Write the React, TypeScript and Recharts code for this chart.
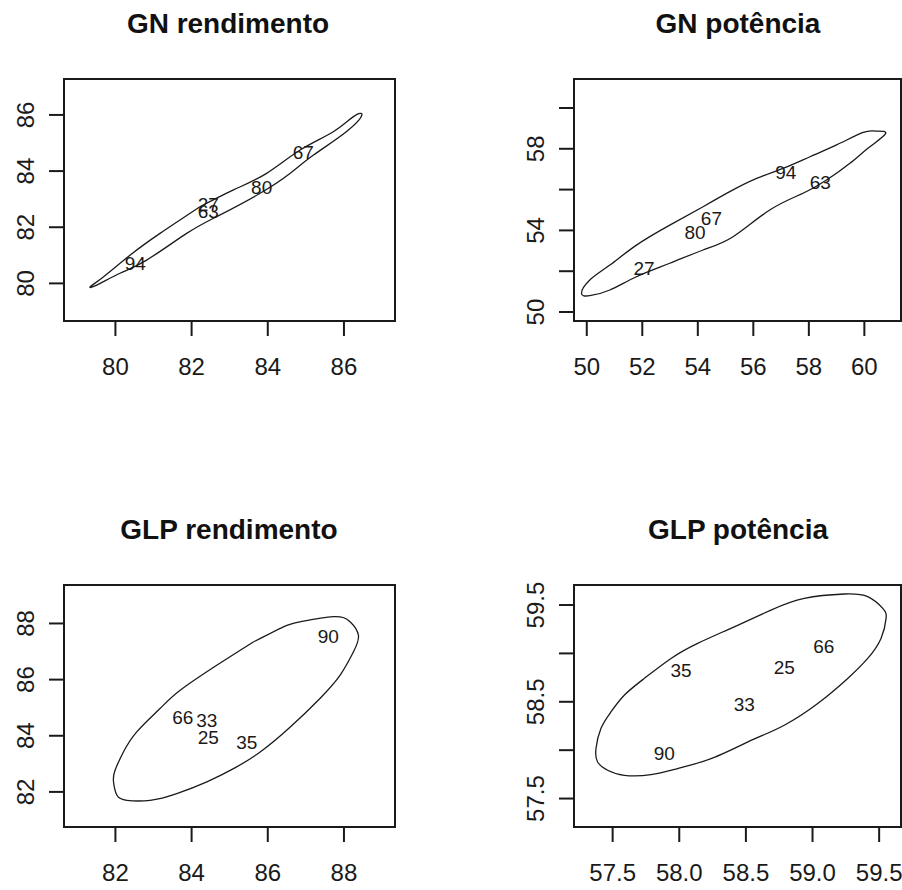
import React from "react";
import { ScatterChart, Scatter, XAxis, YAxis, ReferenceArea } from "recharts";

// ---------- data ----------
const gnRendEllipse = [
  { x: 82.22, y: 82.73 }, { x: 83.1, y: 83.33 }, { x: 83.97, y: 83.92 }, { x: 84.85, y: 84.75 },
  { x: 85.72, y: 85.4 }, { x: 86.25, y: 85.94 }, { x: 86.47, y: 86.0 }, { x: 86.07, y: 85.41 },
  { x: 85.2, y: 84.57 }, { x: 84.59, y: 83.92 }, { x: 83.8, y: 83.21 }, { x: 82.66, y: 82.38 },
  { x: 81.87, y: 81.78 }, { x: 80.82, y: 80.83 }, { x: 80.12, y: 80.36 }, { x: 79.51, y: 79.94 },
  { x: 79.34, y: 79.88 }, { x: 79.69, y: 80.24 }, { x: 80.39, y: 81.01 }, { x: 81.17, y: 81.78 },
  { x: 82.22, y: 82.73 },
];
const gnRendLabels = [
  { x: 80.52, y: 80.71, label: "94" },
  { x: 82.44, y: 82.83, label: "27" },
  { x: 82.44, y: 82.59, label: "63" },
  { x: 83.84, y: 83.42, label: "80" },
  { x: 84.93, y: 84.69, label: "67" },
];
const gnRendXTicks = [80, 82, 84, 86];
const gnRendYTicks = [80, 82, 84, 86];
const gnRendYLabels = [80, 82, 84, 86];

const gnPotEllipse = [
  { x: 54.19, y: 55.16 }, { x: 55.15, y: 55.9 }, { x: 56.12, y: 56.55 },
  { x: 57.07, y: 57.04 }, { x: 58.04, y: 57.61 }, { x: 59.0, y: 58.19 }, { x: 59.96, y: 58.8 },
  { x: 60.4, y: 58.87 }, { x: 60.77, y: 58.76 }, { x: 60.2, y: 58.1 }, { x: 59.48, y: 57.29 },
  { x: 58.64, y: 56.47 }, { x: 57.79, y: 55.82 }, { x: 56.59, y: 55.0 }, { x: 55.27, y: 53.69 },
  { x: 54.19, y: 53.04 }, { x: 52.99, y: 52.39 }, { x: 51.79, y: 51.73 }, { x: 50.83, y: 51.08 },
  { x: 50.11, y: 50.8 }, { x: 49.81, y: 50.92 }, { x: 50.11, y: 51.57 }, { x: 50.83, y: 52.3 },
  { x: 51.79, y: 53.28 }, { x: 52.99, y: 54.26 }, { x: 54.19, y: 55.16 },
];
const gnPotLabels = [
  { x: 52.06, y: 52.14, label: "27" },
  { x: 53.9, y: 53.91, label: "80" },
  { x: 54.49, y: 54.59, label: "67" },
  { x: 57.17, y: 56.83, label: "94" },
  { x: 58.41, y: 56.34, label: "63" },
];
const gnPotXTicks = [50, 52, 54, 56, 58, 60];
const gnPotYTicks = [50, 52, 54, 56, 58, 60];
const gnPotYLabels = [50, 54, 58];

const glpRendEllipse = [
  { x: 85.62, y: 87.34 }, { x: 84.66, y: 86.51 }, { x: 83.7, y: 85.62 },
  { x: 83.17, y: 84.97 }, { x: 82.56, y: 84.14 }, { x: 82.21, y: 83.42 }, { x: 81.99, y: 82.77 },
  { x: 81.95, y: 82.36 }, { x: 82.04, y: 81.88 }, { x: 82.3, y: 81.7 }, { x: 82.91, y: 81.7 },
  { x: 83.61, y: 81.94 }, { x: 84.4, y: 82.36 }, { x: 85.1, y: 82.83 }, { x: 85.8, y: 83.42 },
  { x: 86.59, y: 84.31 }, { x: 87.37, y: 85.33 }, { x: 87.9, y: 86.16 }, { x: 88.25, y: 86.99 },
  { x: 88.38, y: 87.58 }, { x: 88.16, y: 88.06 }, { x: 87.72, y: 88.24 }, { x: 86.85, y: 88.06 },
  { x: 86.41, y: 87.88 }, { x: 85.62, y: 87.34 },
];
const glpRendLabels = [
  { x: 83.77, y: 84.67, label: "66" },
  { x: 84.4, y: 84.55, label: "33" },
  { x: 84.44, y: 83.96, label: "25" },
  { x: 85.45, y: 83.78, label: "35" },
  { x: 87.59, y: 87.56, label: "90" },
];
const glpRendXTicks = [82, 84, 86, 88];
const glpRendYTicks = [82, 84, 86, 88];
const glpRendYLabels = [82, 84, 86, 88];

const glpPotEllipse = [
  { x: 58.538, y: 58.102 }, { x: 58.238, y: 57.913 }, { x: 57.988, y: 57.81 },
  { x: 57.788, y: 57.747 }, { x: 57.587, y: 57.74 }, { x: 57.462, y: 57.792 }, { x: 57.387, y: 57.878 },
  { x: 57.375, y: 58.017 }, { x: 57.412, y: 58.224 }, { x: 57.487, y: 58.395 }, { x: 57.587, y: 58.568 },
  { x: 57.737, y: 58.741 }, { x: 57.938, y: 58.948 }, { x: 58.138, y: 59.104 }, { x: 58.413, y: 59.275 },
  { x: 58.688, y: 59.448 }, { x: 58.938, y: 59.569 }, { x: 59.239, y: 59.614 }, { x: 59.414, y: 59.586 },
  { x: 59.527, y: 59.466 }, { x: 59.552, y: 59.362 }, { x: 59.514, y: 59.155 }, { x: 59.414, y: 58.948 },
  { x: 59.264, y: 58.741 }, { x: 59.039, y: 58.482 }, { x: 58.788, y: 58.258 }, { x: 58.538, y: 58.102 },
];
const glpPotLabels = [
  { x: 57.887, y: 57.965, label: "90" },
  { x: 58.013, y: 58.827, label: "35" },
  { x: 58.488, y: 58.472, label: "33" },
  { x: 58.788, y: 58.861, label: "25" },
  { x: 59.084, y: 59.076, label: "66" },
];
const glpPotXTicks = [57.5, 58.0, 58.5, 59.0, 59.5];
const glpPotYTicks = [57.5, 58.0, 58.5, 59.0, 59.5];
const glpPotYLabels = [57.5, 58.5, 59.5];

const titles = ["GN rendimento", "GN potência", "GLP rendimento", "GLP potência"];

// ---------- styling ----------
const TICK_FONT = "'Liberation Sans', Arial, sans-serif";
const TITLE_FONT = "'Liberation Sans', Arial, sans-serif";
const INK = "#1a1a1a";

type Pt = { x: number; y: number };
type Lbl = { x: number; y: number; label: string };

const fmtInt = (v: number) => String(v);
const fmtOne = (v: number) => v.toFixed(1);

function YTick(props: any) {
  const { x, y, payload, visible, fmt } = props;
  const v = payload.value;
  if (!visible.some((w: number) => Math.abs(w - v) < 1e-9)) return <g />;
  return (
    <text
      x={x}
      y={y}
      transform={`rotate(-90, ${x}, ${y})`}
      textAnchor="middle"
      fontSize={24}
      fontFamily={TICK_FONT}
      fill={INK}
    >
      {fmt(v)}
    </text>
  );
}

function LabelShape(props: any) {
  const { cx, cy, payload } = props;
  return (
    <text
      x={cx}
      y={cy}
      dy="0.36em"
      textAnchor="middle"
      fontSize={19}
      fontFamily={TICK_FONT}
      fill={INK}
    >
      {payload.label}
    </text>
  );
}

type PanelProps = {
  left: number;
  top: number;
  ellipse: Pt[];
  labels: Lbl[];
  xDomain: [number, number];
  yDomain: [number, number];
  xTicks: number[];
  yTicks: number[];
  yLabels: number[];
  fmt: (v: number) => string;
  plotLeft: number;
  plotRight: number;
  plotTop: number;
  plotBottom: number;
};

function Panel(p: PanelProps) {
  const W = 451;
  const H = 445;
  const XH = 60;
  return (
    <div style={{ position: "absolute", left: p.left, top: p.top, width: W, height: H }}>
      <ScatterChart
        width={W}
        height={H}
        margin={{ top: p.plotTop, right: W - p.plotRight, bottom: H - p.plotBottom - XH, left: 0 }}
      >
        <XAxis
          type="number"
          dataKey="x"
          domain={p.xDomain}
          ticks={p.xTicks}
          allowDataOverflow
          height={XH}
          axisLine={false}
          tickLine={{ stroke: INK, strokeWidth: 2 }}
          tickSize={15}
          tickMargin={22}
          tickFormatter={p.fmt}
          tick={{ fontSize: 24, fill: INK, fontFamily: TICK_FONT }}
          interval={0}
        />
        <YAxis
          type="number"
          dataKey="y"
          domain={p.yDomain}
          ticks={p.yTicks}
          allowDataOverflow
          width={p.plotLeft}
          axisLine={false}
          tickLine={{ stroke: INK, strokeWidth: 2 }}
          tickSize={15}
          tickMargin={15}
          interval={0}
          tick={(tp: any) => <YTick {...tp} visible={p.yLabels} fmt={p.fmt} />}
        />
        <ReferenceArea
          x1={p.xDomain[0]}
          x2={p.xDomain[1]}
          y1={p.yDomain[0]}
          y2={p.yDomain[1]}
          fill="none"
          stroke={INK}
          strokeWidth={2}
          ifOverflow="visible"
        />
        <Scatter
          data={p.ellipse}
          line={{ stroke: INK, strokeWidth: 1.3 }}
          lineType="joint"
          lineJointType="natural"
          shape={() => <g />}
          isAnimationActive={false}
        />
        <Scatter data={p.labels} shape={LabelShape} isAnimationActive={false} />
      </ScatterChart>
    </div>
  );
}

export default function App() {
  return (
    <div
      style={{
        position: "absolute",
        left: 0,
        top: 0,
        width: 902,
        height: 890,
        overflow: "hidden",
        background: "#fff",
      }}
    >
      <Panel
        left={0}
        top={0}
        ellipse={gnRendEllipse}
        labels={gnRendLabels}
        xDomain={[78.65, 87.34]}
        yDomain={[78.66, 87.28]}
        xTicks={gnRendXTicks}
        yTicks={gnRendYTicks}
        yLabels={gnRendYLabels}
        fmt={fmtInt}
        plotLeft={64}
        plotRight={395}
        plotTop={79}
        plotBottom={321}
      />
      <Panel
        left={451}
        top={0}
        ellipse={gnPotEllipse}
        labels={gnPotLabels}
        xDomain={[49.54, 61.32]}
        yDomain={[49.56, 61.42]}
        xTicks={gnPotXTicks}
        yTicks={gnPotYTicks}
        yLabels={gnPotYLabels}
        fmt={fmtInt}
        plotLeft={123}
        plotRight={450}
        plotTop={79}
        plotBottom={321}
      />
      <Panel
        left={0}
        top={445}
        ellipse={glpRendEllipse}
        labels={glpRendLabels}
        xDomain={[80.65, 89.34]}
        yDomain={[80.75, 89.37]}
        xTicks={glpRendXTicks}
        yTicks={glpRendYTicks}
        yLabels={glpRendYLabels}
        fmt={fmtInt}
        plotLeft={64}
        plotRight={395}
        plotTop={140}
        plotBottom={382}
      />
      <Panel
        left={451}
        top={445}
        ellipse={glpPotEllipse}
        labels={glpPotLabels}
        xDomain={[57.21, 59.664]}
        yDomain={[57.206, 59.707]}
        xTicks={glpPotXTicks}
        yTicks={glpPotYTicks}
        yLabels={glpPotYLabels}
        fmt={fmtOne}
        plotLeft={123}
        plotRight={450}
        plotTop={140}
        plotBottom={382}
      />
      <svg
        width={902}
        height={890}
        style={{ position: "absolute", left: 0, top: 0, pointerEvents: "none" }}
      >
        <text x={228} y={33} textAnchor="middle" fontSize={28} fontWeight="bold" fontFamily={TITLE_FONT} fill="#111">
          {titles[0]}
        </text>
        <text x={738} y={33} textAnchor="middle" fontSize={28} fontWeight="bold" fontFamily={TITLE_FONT} fill="#111">
          {titles[1]}
        </text>
        <text x={229} y={539} textAnchor="middle" fontSize={28} fontWeight="bold" fontFamily={TITLE_FONT} fill="#111">
          {titles[2]}
        </text>
        <text x={738} y={539} textAnchor="middle" fontSize={28} fontWeight="bold" fontFamily={TITLE_FONT} fill="#111">
          {titles[3]}
        </text>
      </svg>
    </div>
  );
}
